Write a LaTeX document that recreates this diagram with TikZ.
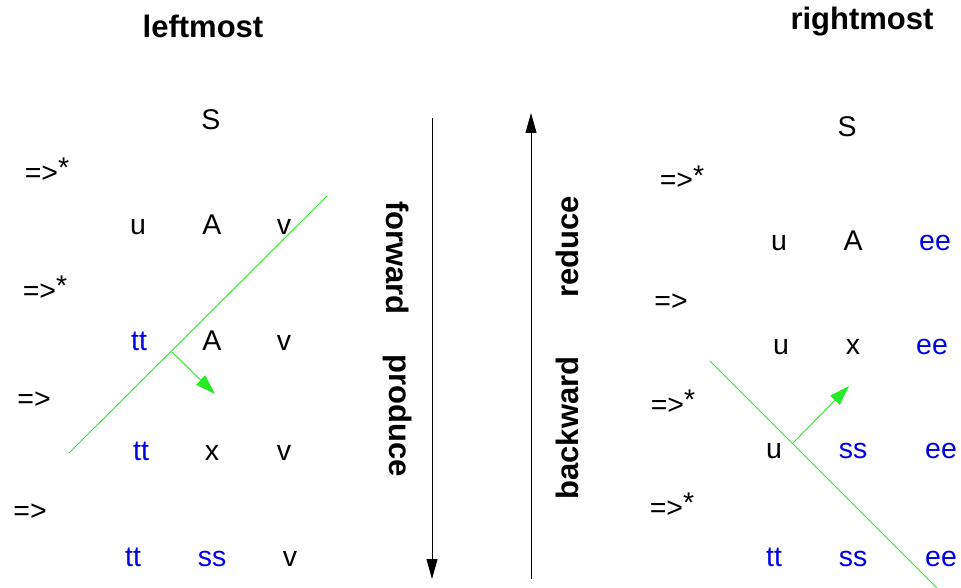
\documentclass[tikz,border=0pt]{standalone}
\usepackage{fontspec}
\setmainfont{Liberation Sans}
\usetikzlibrary{arrows.meta}
\newcommand{\derstar}{=>\raisebox{5pt}{*}}
\begin{document}
\begin{tikzpicture}[x=1pt,y=-1pt,
  sym/.style={font=\fontsize{28.5}{30}\selectfont, inner sep=0pt, anchor=base},
  term/.style={sym, text={rgb,255:red,0;green,0;blue,230}},
  head/.style={font=\bfseries\fontsize{31}{33}\selectfont, inner sep=0pt},
  side/.style={font=\bfseries\fontsize{31}{33}\selectfont, inner sep=0pt},
  flow/.style={line width=0.9pt, -{Triangle[length=20pt,width=11pt]}},
  cut/.style={draw={rgb,255:red,40;green,235;blue,40}, line width=0.9pt},
  push/.style={cut, -{Triangle[length=20pt,width=13pt]}, fill={rgb,255:red,40;green,235;blue,40}}]
\useasboundingbox (0,0) rectangle (961,588);
% headings
\node[head] (hl) at (203,26) {leftmost};
\node[head] (hr) at (862,22) {rightmost};
% left derivation
\node[sym] (lS) at (211,130) {S};
\node[sym] (ld1) at (47,183) {\derstar};
\node[sym] (lu1) at (138,235) {u};
\node[sym] (lA1) at (212,235) {A};
\node[sym] (lv1) at (284,235) {v};
\node[sym] (ld2) at (45,300) {\derstar};
\node[term] (lt2) at (139,350) {tt};
\node[sym] (lA2) at (212,350) {A};
\node[sym] (lv2) at (284,350) {v};
\node[sym] (ld3) at (34,408) {=>};
\node[term] (lt3) at (141,460) {tt};
\node[sym] (lx3) at (212,460) {x};
\node[sym] (lv3) at (284,460) {v};
\node[sym] (ld4) at (30,520) {=>};
\node[term] (lt4) at (133,566) {tt};
\node[term] (ls4) at (212,566) {ss};
\node[sym] (lv4) at (290,566) {v};
% left cut
\coordinate (lc1) at (69,453);
\coordinate (lc2) at (327,196);
\coordinate (la1) at (172,352);
\coordinate (la2) at (215,394);
\draw[cut] (lc1) -- (lc2);
\draw[push] (la1) -- (la2);
% middle arrows
\coordinate (f1) at (432,118);
\coordinate (f2) at (432,579);
\coordinate (b1) at (531,579);
\coordinate (b2) at (531,113);
\draw[flow] (f1) -- (f2);
\draw[flow] (b1) -- (b2);
\node[side, rotate=-90] (fw) at (398,258) {forward};
\node[side, rotate=-90] (pr) at (398,416) {produce};
\node[side, rotate=90] (rd) at (567,247) {reduce};
\node[side, rotate=90] (bw) at (567,428) {backward};
% right derivation
\node[sym] (rS) at (847,137) {S};
\node[sym] (rd1) at (682,190) {\derstar};
\node[sym] (ru1) at (779,251) {u};
\node[sym] (rA1) at (853,251) {A};
\node[term] (re1) at (935,251) {ee};
\node[sym] (rd2) at (671,310) {=>};
\node[sym] (ru2) at (781,354) {u};
\node[sym] (rx2) at (853,354) {x};
\node[term] (re2) at (932,354) {ee};
\node[sym] (rd3) at (673,414) {\derstar};
\node[sym] (ru3) at (774,458) {u};
\node[term] (rs3) at (853,458) {ss};
\node[term] (re3) at (941,458) {ee};
\node[sym] (rd4) at (672,517) {\derstar};
\node[term] (rt4) at (774,566) {tt};
\node[term] (rs4) at (853,566) {ss};
\node[term] (re4) at (941,566) {ee};
% right cut
\coordinate (rc1) at (710,361);
\coordinate (rc2) at (937,588);
\coordinate (ra1) at (793,443);
\coordinate (ra2) at (849,386);
\draw[cut] (rc1) -- (rc2);
\draw[push] (ra1) -- (ra2);
\end{tikzpicture}
\end{document}
